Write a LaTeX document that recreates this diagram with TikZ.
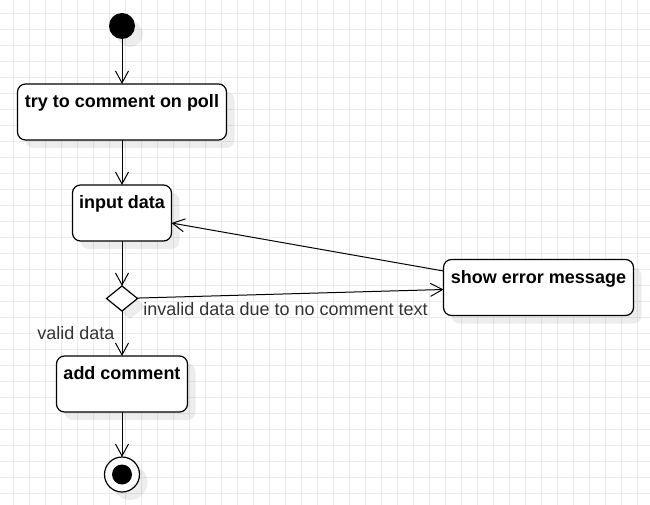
\documentclass[tikz,border=0pt]{standalone}
\usepackage{fontspec}
\setmainfont{Liberation Sans}
\usetikzlibrary{positioning, quotes, arrows.meta, shapes.geometric, shadows}
\definecolor{gridgray}{HTML}{EBEBEB}
\definecolor{labelgray}{HTML}{333333}
\tikzset{
every edge quotes/.style = {font = \fontsize{18}{21}\selectfont, text = labelgray, inner sep = 0pt},
castshadow/.style = {drop shadow = {shadow xshift = 8pt, shadow yshift = -8pt,
   fill = black, opacity = .07}},
activity/.style = {rectangle, draw, line width = 1.2pt, rounded corners = 8pt, fill = white,
   inner sep = 0pt, outer sep = 0pt, text height = 23.5pt, text depth = 32.5pt,
   font = \bfseries\fontsize{18}{21}\selectfont, castshadow},
startdot/.style = {circle, fill = black, minimum size = 26pt, inner sep = 0pt,
   outer sep = 0pt, castshadow},
enddot/.style = {circle, draw, line width = 1.2pt, fill = white, minimum size = 35pt,
   inner sep = 0pt, outer sep = 0pt, castshadow,
   path picture = {\fill [black] (path picture bounding box.center) circle (10pt);}},
decision/.style = {diamond, draw, line width = 1.2pt, fill = white, minimum width = 31pt,
   minimum height = 25pt, inner sep = 0pt, outer sep = 0pt, castshadow},
transition/.style = {-{Straight Barb[length = 12pt, width = 13pt]}, line width = 1pt},
gridline/.style = {gridgray, line width = 1pt}
}
\begin{document}
\begin{tikzpicture}[x = 1pt, y = -1pt]

%% Background and grid
\fill [white] (0,0) rectangle (650,505);
\useasboundingbox (0,0) rectangle (650,505);
\foreach \gx in {13.5, 29.5, ..., 650} \draw [gridline] (\gx,0) -- (\gx,505);
\foreach \gy in {13.5, 29.5, ..., 505} \draw [gridline] (0,\gy) -- (650,\gy);

%% Main flow
\node [startdot] (start) at (122,26) {};
\node [activity, minimum width = 209pt] (try) [below = 45pt of start] {try to comment on poll};
\node [activity, minimum width = 99pt] (inp) [below = 45pt of try] {input data};
\node [decision] (dec) [below = 45pt of inp] {};
\node [activity, minimum width = 131pt] (add) [below = 45pt of dec] {add comment};
\node [enddot] (stop) [below = 45pt of add] {};

%% Error branch
\node [activity, minimum width = 190pt] (err) [right = 306pt of dec, yshift = 11pt] {show error message};

%% Transitions
\path [transition] (start) edge (try);
\path [transition] (try) edge (inp);
\path [transition] (inp) edge (dec);
\path [transition] (dec) edge ["valid data" {anchor = north east, pos = 0,
   xshift = -7pt, yshift = -15pt}] (add);
\path [transition] (add) edge (stop);

\path [transition] (dec) edge ["invalid data due to no comment text" {anchor = north west,
   pos = 0, xshift = 6pt, yshift = -4pt}] ([yshift = -2pt]err.west);
\path [transition] ([yshift = 16.5pt]err.west) edge ([yshift = -10pt]inp.east);

\end{tikzpicture}
\end{document}
